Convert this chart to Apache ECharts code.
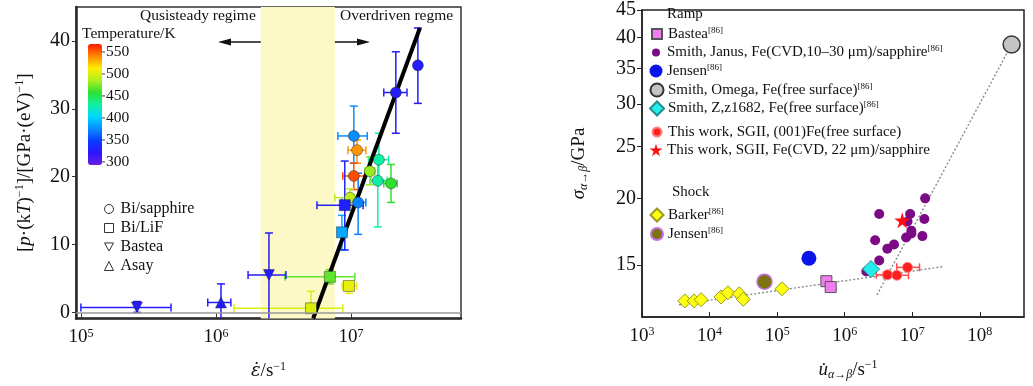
<!DOCTYPE html>
<html>
<head>
<meta charset="utf-8">
<script src="https://cdn.jsdelivr.net/npm/echarts@6/dist/echarts.min.js"></script>
<style>
  html, body { margin: 0; padding: 0; background: #fff; }
  #chart { width: 1033px; height: 386px; }
</style>
</head>
<body>
<div id="chart"></div>
<script>
const SERIF = "'Liberation Serif', 'Times New Roman', serif";
const lg = Math.log10;

// ---------- left panel ----------
// rows: strain rate (1/s), value, rate lo, rate hi, value lo, value hi, temperature (K)
const biSapphire = [
  [3.13e7, 36.4, 3.13e7, 3.13e7, 30.8, 41.9, 325],
  [2.15e7, 32.4, 1.75e7, 2.6e7, 26.4, 38.4, 325],
  [1.05e7, 26.0, 8.0e6, 1.32e7, 22.0, 30.4, 376],
  [1.11e7, 23.9, 9.5e6, 1.29e7, 22.0, 25.4, 537],
  [1.05e7, 20.1, 8.7e6, 1.26e7, 18.1, 22.0, 555],
  [1.61e7, 22.5, 1.35e7, 1.9e7, 19.4, 26.4, 430],
  [1.58e7, 19.4, 1.4e7, 1.85e7, 12.6, 22.5, 428],
  [1.98e7, 19.0, 1.75e7, 2.2e7, 16.2, 21.8, 458],
  [1.38e7, 20.8, 1.27e7, 1.5e7, 18.8, 22.9, 480],
  [9.84e6, 16.9, 7.6e6, 1.1e7, 15.5, 18.2, 490],
  [1.13e7, 16.2, 8.6e6, 1.29e7, 11.5, 20.5, 372]
];
const biLiF = [
  [5.06e6, 0.6, 1.36e6, 8.7e6, 0.0, 3.1, 500],
  [9.66e6, 3.9, 8.6e6, 1.1e7, 2.8, 4.5, 505],
  [6.98e6, 5.25, 3.24e6, 1.07e7, 4.2, 6.3, 468],
  [8.57e6, 11.8, 8.0e6, 9.3e6, 9.2, 14.3, 385],
  [9.0e6, 15.8, 5.6e6, 1.23e7, 9.2, 22.3, 330]
];
const basteaLeft = [
  [2.6e5, 0.73, 1.0e5, 4.65e5, 0.0, 1.6, 325],
  [2.47e6, 5.5, 1.73e6, 3.3e6, -3, 11.7, 325]
];
const asayLeft = [
  [1.09e6, 1.46, 8.7e5, 1.29e6, -3, 4.2, 325]
];
const fitRate = [5.25e6, 3.24e7];
const fitValue = [-0.9, 41.9];
const quasiBand = [2.15e6, 7.6e6];
const leftRateRange = [9.2e4, 6.53e7];
const leftValueRange = [-0.9, 45];
const leftRateTicks = [1e5, 1e6, 1e7];
const leftValueTicks = [0, 10, 20, 30, 40];
const tempRange = [293, 568];
const tempTicks = [300, 350, 400, 450, 500, 550];

// ---------- right panel ----------
const rightRateRange = [1e3, 4.5e8];
const rightStressRange = [12, 45];
const rightRateTicks = [1e3, 1e4, 1e5, 1e6, 1e7, 1e8];
const rightStressTicks = [15, 20, 25, 30, 35, 40, 45];

const basteaRate = [5.35e5, 6.2e5];
const basteaStress = [14.0, 13.65];
const janusRate = [3.24e6, 2.82e6, 3.24e6, 2.09e6, 4.27e6, 5.37e6, 8.5e6, 9.3e6, 8.1e6, 9.7e6, 9.7e6, 1.41e7, 1.51e7, 1.55e7];
const janusStress = [18.7, 16.7, 15.3, 14.6, 16.1, 16.4, 18.1, 18.7, 16.9, 17.2, 17.4, 17.0, 18.3, 20.0];
const jensenRampRate = [2.95e5];
const jensenRampStress = [15.45];
const omegaRate = [2.95e8];
const omegaStress = [38.8];
const zRate = [2.45e6];
const zStress = [14.75];
const sgiiFreeRate = [4.3e6, 5.9e6, 8.5e6];
const sgiiFreeStress = [14.39, 14.36, 14.86];
const sgiiFreeLo = [2.93e6, 3.76e6, 5.9e6];
const sgiiFreeHi = [5.9e6, 8.8e6, 1.28e7];
const sgiiCvdRate = [7.1e6];
const sgiiCvdStress = [18.2];
const barkerRate = [4.3e3, 5.9e3, 7.5e3, 1.48e4, 1.87e4, 2.75e4, 3.15e4, 1.18e5];
const barkerStress = [12.86, 12.86, 12.93, 13.08, 13.32, 13.26, 12.95, 13.55];
const jensenShockRate = [6.5e4];
const jensenShockStress = [13.97];
const shallowGuideRate = [3.53e3, 2.78e7];
const shallowGuideStress = [12.65, 14.9];
const steepGuideRate = [3.0e6, 2.95e8];
const steepGuideStress = [13.2, 38.8];

const legendLabels = {
  rampBastea: 'Bastea{s|[86]}',
  rampJanus: 'Smith, Janus, Fe(CVD,10\u201330 \u03bcm)/sapphire{s|[86]}',
  rampJensen: 'Jensen{s|[86]}',
  rampOmega: 'Smith, Omega, Fe(free surface){s|[86]}',
  rampZ: 'Smith, Z,z1682, Fe(free surface){s|[86]}',
  sgiiFree: 'This work, SGII, (001)Fe(free surface)',
  sgiiCvd: 'This work, SGII, Fe(CVD, 22 \u03bcm)/sapphire',
  shockBarker: 'Barker{s|[86]}',
  shockJensen: 'Jensen{s|[86]}'
};
// legend rows: series name, row centre y, icon size
const legendRows = [
  ['rampBastea', 34, 10], ['rampJanus', 52.5, 8], ['rampJensen', 71, 13],
  ['rampOmega', 90, 13], ['rampZ', 108.5, 14],
  ['sgiiFree', 132, 9], ['sgiiCvd', 150, 13],
  ['shockBarker', 215, 13], ['shockJensen', 234, 12]
];

const STAR = 'path://M50,0L61,35L98,35L68,57L79,91L50,70L21,91L32,57L2,35L39,35Z';
const DOWN_TRI = 'path://M0,0L10,0L5,9Z';

const rainbow = ['#6a1ee0', '#2a14ff', '#0a3cff', '#0a8cff', '#00d8ff', '#10f0a0',
  '#30e030', '#b0f020', '#ffee00', '#ff8800', '#ff1a00'];

const toLeft = rows => rows.map(r => [lg(r[0]), r[1], lg(r[2]), lg(r[3]), r[4], r[5], r[6]]);
const pairs = (xs, ys) => xs.map((x, i) => [lg(x), lg(ys[i])]);

const chart = echarts.init(document.getElementById('chart'));

function errorBars(params, api) {
  const cs = params.coordSys;
  const top = cs.y, bottom = cs.y + cs.height;
  const clampY = v => Math.max(top, Math.min(bottom, v));
  const style = { stroke: api.visual('color'), lineWidth: 1.5 };
  const p = api.coord([api.value(0), api.value(1)]);
  const xl = api.coord([api.value(2), api.value(1)])[0];
  const xh = api.coord([api.value(3), api.value(1)])[0];
  const yl = api.coord([api.value(0), api.value(4)])[1];
  const yh = api.coord([api.value(0), api.value(5)])[1];
  const cap = 4;
  const kids = [];
  const line = (x1, y1, x2, y2) => kids.push({ type: 'line', shape: { x1, y1, x2, y2 }, style });
  if (xh - xl > 1) {
    line(xl, p[1], xh, p[1]);
    line(xl, p[1] - cap, xl, p[1] + cap);
    line(xh, p[1] - cap, xh, p[1] + cap);
  }
  if (yl - yh > 1) {
    line(p[0], clampY(yh), p[0], clampY(yl));
    if (yh >= top) line(p[0] - cap, yh, p[0] + cap, yh);
    if (yl <= bottom) line(p[0] - cap, yl, p[0] + cap, yl);
  }
  return { type: 'group', children: kids };
}

const labelBase = { fontFamily: SERIF, color: '#111' };
const powRich = {
  b: { ...labelBase, fontSize: 19, lineHeight: 20 },
  s: { ...labelBase, fontSize: 12, lineHeight: 12, verticalAlign: 'top' }
};
const nameRich = {
  n: { ...labelBase, fontSize: 19, lineHeight: 22 },
  i: { ...labelBase, fontSize: 19, lineHeight: 22, fontStyle: 'italic' },
  e: { fontFamily: "'DejaVu Serif', serif", color: '#111', fontSize: 18, lineHeight: 22, fontStyle: 'italic' },
  sup: { ...labelBase, fontSize: 12, lineHeight: 12, verticalAlign: 'top' },
  sub: { ...labelBase, fontSize: 12, lineHeight: 12, verticalAlign: 'bottom', fontStyle: 'italic' }
};

const scatterStyle = { borderColor: 'rgba(30,30,30,0.55)', borderWidth: 0.8, opacity: 1 };
const leftAll = toLeft([...biSapphire, ...biLiF, ...basteaLeft, ...asayLeft]);

const rightLegends = legendRows.map(([name, y, size]) => ({
  orient: 'vertical', left: 656 - size / 2, top: y - 8, padding: 0,
  itemWidth: size, itemHeight: size, selectedMode: false,
  formatter: n => legendLabels[n],
  textStyle: {
    fontFamily: SERIF, fontSize: 15, lineHeight: 16, color: '#111',
    padding: [0, 0, 0, 6 - size / 2],
    rich: { s: { fontFamily: SERIF, fontSize: 9, lineHeight: 10, verticalAlign: 'top', color: '#111' } }
  },
  data: [name]
}));

const option = {
  animation: false,
  backgroundColor: '#fff',
  textStyle: { fontFamily: SERIF },
  grid: [
    { left: 76, top: 7, width: 385, height: 315, show: true, borderColor: '#333', borderWidth: 1.5 },
    { left: 642, top: 7, width: 382, height: 313, show: true, borderColor: '#222', borderWidth: 1.5 }
  ],
  xAxis: [
    {
      type: 'value', gridIndex: 0, min: lg(leftRateRange[0]), max: lg(leftRateRange[1]),
      axisLine: { onZero: false, lineStyle: { color: '#2a2a2a', width: 2.5 } },
      axisTick: { inside: true, length: 5, customValues: leftRateTicks.map(lg), lineStyle: { color: '#333' } },
      axisLabel: { customValues: leftRateTicks.map(lg), margin: 9, formatter: v => '{b|10}{s|' + Math.round(v) + '}', rich: powRich },
      splitLine: { show: false },
      name: '{e|\u03b5\u0307}{n|/s}{sup|\u22121}', nameLocation: 'middle', nameGap: 42,
      nameTextStyle: { rich: nameRich }
    },
    {
      type: 'value', gridIndex: 1, min: lg(rightRateRange[0]), max: lg(rightRateRange[1]),
      axisLine: { onZero: false, lineStyle: { color: '#222', width: 1.5 } },
      axisTick: { inside: true, length: 5, customValues: rightRateTicks.map(lg), lineStyle: { color: '#222' } },
      axisLabel: { customValues: rightRateTicks.map(lg), margin: 9, formatter: v => '{b|10}{s|' + Math.round(v) + '}', rich: powRich },
      splitLine: { show: false },
      name: '{i|u\u0307}{sub|\u03b1\u2192\u03b2}{n|/s}{sup|\u22121}', nameLocation: 'middle', nameGap: 42,
      nameTextStyle: { rich: nameRich, padding: [0, 0, 0, 30] }
    }
  ],
  yAxis: [
    {
      type: 'value', gridIndex: 0, min: leftValueRange[0], max: leftValueRange[1],
      axisLine: { onZero: false, lineStyle: { color: '#2a2a2a', width: 2.5 } },
      axisTick: { length: 4, customValues: leftValueTicks, lineStyle: { color: '#333' } },
      axisLabel: { customValues: leftValueTicks, margin: 6, fontFamily: SERIF, fontSize: 20, color: '#111' },
      splitLine: { show: false },
      name: '{n|[}{i|p}{n|\u00b7(k}{i|T}{n|)}{sup|\u22121}{n|]/[GPa\u00b7(eV)}{sup|\u22121}{n|]}',
      nameLocation: 'middle', nameGap: 40, nameTextStyle: { rich: nameRich }
    },
    {
      type: 'value', gridIndex: 1, min: lg(rightStressRange[0]), max: lg(rightStressRange[1]),
      axisLine: { onZero: false, lineStyle: { color: '#222', width: 1.5 } },
      axisTick: { length: 5, customValues: rightStressTicks.map(lg), lineStyle: { color: '#222' } },
      axisLabel: { customValues: rightStressTicks.map(lg), margin: 6, fontFamily: SERIF, fontSize: 20, color: '#111',
        formatter: v => String(Math.round(Math.pow(10, v))) },
      splitLine: { show: false },
      name: '{i|\u03c3}{sub|\u03b1\u2192\u03b2}{n|/GPa}', nameLocation: 'middle', nameGap: 52,
      nameTextStyle: { rich: nameRich }
    }
  ],
  visualMap: {
    type: 'continuous', min: tempRange[0], max: tempRange[1], dimension: 6,
    seriesIndex: [1, 3, 4, 5, 6], inRange: { color: rainbow },
    calculable: false, show: true, left: 88, top: 44, itemWidth: 14, itemHeight: 121,
    padding: 0, text: null, showLabel: false, hoverLink: false
  },
  legend: [
    {
      orient: 'vertical', left: 104, top: 201, padding: 0, itemGap: 3, itemWidth: 9, itemHeight: 9,
      selectedMode: false,
      textStyle: { fontFamily: SERIF, fontSize: 16, lineHeight: 16, color: '#111', padding: [0, 0, 0, 2] },
      data: [
        { name: 'Bi/sapphire', icon: 'circle', itemStyle: { color: '#fff', borderColor: '#333', borderWidth: 1 } },
        { name: 'Bi/LiF', icon: 'rect', itemStyle: { color: '#fff', borderColor: '#333', borderWidth: 1 } },
        { name: 'Bastea', icon: DOWN_TRI, itemStyle: { color: '#fff', borderColor: '#333', borderWidth: 1 } },
        { name: 'Asay', icon: 'triangle', itemStyle: { color: '#fff', borderColor: '#333', borderWidth: 1 } }
      ]
    }
  ].concat(rightLegends),
  graphic: [
    { type: 'text', left: 140, top: 8, style: { text: 'Qusisteady regime', font: '15.5px ' + SERIF, fill: '#111' } },
    { type: 'text', left: 340, top: 8, style: { text: 'Overdriven regme', font: '15.5px ' + SERIF, fill: '#111' } },
    { type: 'line', shape: { x1: 277, y1: 42, x2: 226, y2: 42 }, style: { stroke: '#111', lineWidth: 1.3 } },
    { type: 'polygon', shape: { points: [[218, 42], [231, 38.5], [231, 45.5]] }, style: { fill: '#111' } },
    { type: 'line', shape: { x1: 308, y1: 42, x2: 362, y2: 42 }, style: { stroke: '#111', lineWidth: 1.3 } },
    { type: 'polygon', shape: { points: [[370, 42], [357, 38.5], [357, 45.5]] }, style: { fill: '#111' } },
    { type: 'text', left: 82, top: 26, style: { text: 'Temperature/K', font: '15.5px ' + SERIF, fill: '#111' } },
    { type: 'text', left: 667, top: 7, style: { text: 'Ramp', font: '15px ' + SERIF, fill: '#111' } },
    { type: 'text', left: 672, top: 185, style: { text: 'Shock', font: '15px ' + SERIF, fill: '#111' } }
  ].concat(tempTicks.map(t => {
    const y = 44 + 121 * (tempRange[1] - t) / (tempRange[1] - tempRange[0]);
    return {
      type: 'group', children: [
        { type: 'line', shape: { x1: 102, y1: y, x2: 105, y2: y }, style: { stroke: '#444', lineWidth: 1 } },
        { type: 'text', x: 106, y: y, style: { text: String(t), font: '15.5px ' + SERIF, fill: '#111', verticalAlign: 'middle' } }
      ]
    };
  })),
  series: [
    // 0: band, zero line
    {
      type: 'line', xAxisIndex: 0, yAxisIndex: 0, data: [], silent: true, z: 0,
      markArea: { silent: true, itemStyle: { color: '#fdf9c6' }, data: [[{ xAxis: lg(quasiBand[0]) }, { xAxis: lg(quasiBand[1]) }]] },
      markLine: { silent: true, symbol: 'none', label: { show: false }, lineStyle: { color: '#999', width: 1.5, type: 'solid' }, data: [{ yAxis: 0 }] }
    },
    // 1: error bars (left)
    { type: 'custom', xAxisIndex: 0, yAxisIndex: 0, renderItem: errorBars, data: leftAll, z: 2, silent: true },
    // 2: fit line
    {
      type: 'line', xAxisIndex: 0, yAxisIndex: 0, z: 3, symbol: 'none', silent: true,
      lineStyle: { color: '#000', width: 4 }, data: fitRate.map((r, i) => [lg(r), fitValue[i]])
    },
    // 3-6: markers
    { name: 'Bi/sapphire', type: 'scatter', xAxisIndex: 0, yAxisIndex: 0, z: 4, symbol: 'circle', symbolSize: 11, itemStyle: scatterStyle, data: toLeft(biSapphire) },
    { name: 'Bi/LiF', type: 'scatter', xAxisIndex: 0, yAxisIndex: 0, z: 4, symbol: 'rect', symbolSize: 11, itemStyle: scatterStyle, data: toLeft(biLiF) },
    { name: 'Bastea', type: 'scatter', xAxisIndex: 0, yAxisIndex: 0, z: 4, symbol: 'triangle', symbolRotate: 180, symbolSize: 11, itemStyle: scatterStyle, data: toLeft(basteaLeft) },
    { name: 'Asay', type: 'scatter', xAxisIndex: 0, yAxisIndex: 0, z: 4, symbol: 'triangle', symbolSize: 11, itemStyle: scatterStyle, data: toLeft(asayLeft) },

    // right panel guides
    {
      type: 'line', xAxisIndex: 1, yAxisIndex: 1, symbol: 'none', silent: true, z: 1,
      lineStyle: { color: '#8a8a8a', width: 1.4, type: [2, 2] }, data: pairs(shallowGuideRate, shallowGuideStress)
    },
    {
      type: 'line', xAxisIndex: 1, yAxisIndex: 1, symbol: 'none', silent: true, z: 1,
      lineStyle: { color: '#8a8a8a', width: 1.4, type: [2, 2] }, data: pairs(steepGuideRate, steepGuideStress)
    },
    { name: 'rampBastea', type: 'scatter', xAxisIndex: 1, yAxisIndex: 1, symbol: 'rect', symbolSize: 11,
      itemStyle: { color: '#f07cf0', borderColor: '#555', borderWidth: 1, opacity: 1 }, data: pairs(basteaRate, basteaStress) },
    { name: 'rampJanus', type: 'scatter', xAxisIndex: 1, yAxisIndex: 1, symbol: 'circle', symbolSize: 10,
      itemStyle: { color: '#7b0a85', opacity: 1 }, data: pairs(janusRate, janusStress) },
    { name: 'rampJensen', type: 'scatter', xAxisIndex: 1, yAxisIndex: 1, symbol: 'circle', symbolSize: 15,
      itemStyle: { color: '#0a14e8', opacity: 1 }, data: pairs(jensenRampRate, jensenRampStress) },
    { name: 'rampOmega', type: 'scatter', xAxisIndex: 1, yAxisIndex: 1, symbol: 'circle', symbolSize: 17,
      itemStyle: { color: '#c4c4c4', borderColor: '#333', borderWidth: 1.5, opacity: 1 }, data: pairs(omegaRate, omegaStress) },
    { name: 'rampZ', type: 'scatter', xAxisIndex: 1, yAxisIndex: 1, symbol: 'diamond', symbolSize: 17, z: 3,
      itemStyle: { color: '#22eeee', borderColor: '#2a8a8a', borderWidth: 1, opacity: 1 }, data: pairs(zRate, zStress) },
    {
      type: 'custom', xAxisIndex: 1, yAxisIndex: 1, renderItem: errorBars, silent: true, z: 3,
      itemStyle: { color: '#ff4a4a' },
      data: sgiiFreeRate.map((r, i) => [lg(r), lg(sgiiFreeStress[i]), lg(sgiiFreeLo[i]), lg(sgiiFreeHi[i]), lg(sgiiFreeStress[i]), lg(sgiiFreeStress[i])])
    },
    { name: 'sgiiFree', type: 'scatter', xAxisIndex: 1, yAxisIndex: 1, symbol: 'circle', symbolSize: 10, z: 4,
      itemStyle: { color: '#ff1f1f', borderColor: '#ff8080', borderWidth: 1, opacity: 1 }, data: pairs(sgiiFreeRate, sgiiFreeStress) },
    { name: 'sgiiCvd', type: 'scatter', xAxisIndex: 1, yAxisIndex: 1, symbol: STAR, symbolSize: 16, z: 4,
      itemStyle: { color: '#ff1010', opacity: 1 }, data: pairs(sgiiCvdRate, sgiiCvdStress) },
    { name: 'shockBarker', type: 'scatter', xAxisIndex: 1, yAxisIndex: 1, symbol: 'diamond', symbolSize: 14, z: 3,
      itemStyle: { color: '#ffff10', borderColor: '#9a9a20', borderWidth: 1, opacity: 1 }, data: pairs(barkerRate, barkerStress) },
    { name: 'shockJensen', type: 'scatter', xAxisIndex: 1, yAxisIndex: 1, symbol: 'circle', symbolSize: 15, z: 3,
      itemStyle: { color: '#7d7310', borderColor: '#c070e0', borderWidth: 1.5, opacity: 1 }, data: pairs(jensenShockRate, jensenShockStress) }
  ]
};

chart.setOption(option);
</script>
</body>
</html>
